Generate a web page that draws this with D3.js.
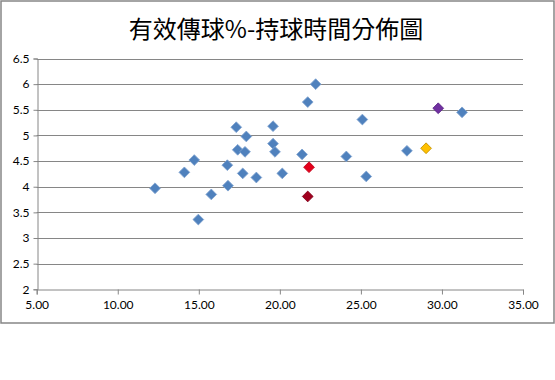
<!DOCTYPE html>
<html><head><meta charset="utf-8">
<script src="https://cdn.jsdelivr.net/npm/d3@7"></script>
<style>body{margin:0;background:#fff}svg{display:block}</style>
</head><body>
<script>
const title = "有效傳球%-持球時間分佈圖";
const xTicks = [5, 10, 15, 20, 25, 30, 35];
const yTicks = [2, 2.5, 3, 3.5, 4, 4.5, 5, 5.5, 6, 6.5];
const blueX = [22.21,21.72,17.31,19.58,17.93,19.58,17.40,17.85,19.70,21.37,14.72,16.76,14.11,17.71,18.55,20.15,12.30,16.80,15.77,14.97,25.09,31.24,24.10,27.84,25.33];
const blueY = [6.00,5.65,5.16,5.18,4.98,4.84,4.72,4.68,4.68,4.63,4.52,4.42,4.28,4.26,4.18,4.26,3.97,4.02,3.85,3.36,5.31,5.45,4.59,4.70,4.20];
const specialX = [21.80, 21.72, 29.77, 29.02];
const specialY = [4.38, 3.81, 5.53, 4.75];
const specialFill = ["#E3001B", "#A0001E", "#7030A0", "#FFC000"];
const specialStroke = ["#C00018", "#80001A", "#5A2585", "#C09000"];

const W = 555, H = 380;
const svg = d3.select("body").append("svg").attr("width", W).attr("height", H);
svg.append("rect").attr("x", 1).attr("y", 1).attr("width", 553).attr("height", 322)
  .attr("fill", "#fff").attr("stroke", "#868686").attr("stroke-width", 1.5);

const x = d3.scaleLinear().domain([5, 35]).range([36.7, 523]);
const y = d3.scaleLinear().domain([2, 6.5]).range([289.3, 58.5]);

svg.append("text").attr("x", 276).attr("y", 38).attr("text-anchor", "middle")
  .attr("font-family", "'Noto Sans CJK TC'").attr("font-size", 24).attr("fill", "#000").text(title);

// gridlines
svg.append("g").selectAll("line").data(yTicks.filter(d => d > 2)).join("line")
  .attr("x1", x(5)).attr("x2", x(35)).attr("y1", d => Math.round(y(d)) + 0.5).attr("y2", d => Math.round(y(d)) + 0.5)
  .attr("stroke", "#868686").attr("stroke-width", 1);

const fontFam = "Lato, 'Open Sans', sans-serif";
const gx = svg.append("g").attr("transform", `translate(0,${Math.round(y(2)) + 0.5})`)
  .call(d3.axisBottom(x).tickValues(xTicks).tickFormat(d3.format(".2f")).tickSize(5).tickPadding(4));
const gy = svg.append("g").attr("transform", `translate(${Math.round(x(5)) + 0.5},0)`)
  .call(d3.axisLeft(y).tickValues(yTicks).tickFormat(d => d3.format("")(d)).tickSize(4).tickPadding(4));
[gx, gy].forEach(g => {
  g.select(".domain").attr("stroke", "#868686");
  g.selectAll(".tick line").attr("stroke", "#868686");
  g.selectAll("text").attr("font-family", fontFam).attr("font-size", 12).attr("fill", "#000");
});
gx.selectAll(".tick text").attr("dy", "0.9em");

const diamond = d3.symbol().type(d3.symbolDiamond2 || d3.symbolDiamond).size(70);
const blue = blueX.map((v, i) => ({x: v, y: blueY[i]}));
svg.append("g").selectAll("path").data(blue).join("path")
  .attr("d", d3.symbol().type(d3.symbolSquare).size(58))
  .attr("transform", d => `translate(${x(d.x)},${y(d.y)}) rotate(45)`)
  .attr("fill", "#4F81BD").attr("stroke", "#7FA3D0").attr("stroke-width", 0.8);

const spec = specialX.map((v, i) => ({x: v, y: specialY[i], f: specialFill[i], s: specialStroke[i]}));
svg.append("g").selectAll("path").data(spec).join("path")
  .attr("d", d3.symbol().type(d3.symbolSquare).size(58))
  .attr("transform", d => `translate(${x(d.x)},${y(d.y)}) rotate(45)`)
  .attr("fill", d => d.f).attr("stroke", d => d.s).attr("stroke-width", 0.8);
</script>
</body></html>
